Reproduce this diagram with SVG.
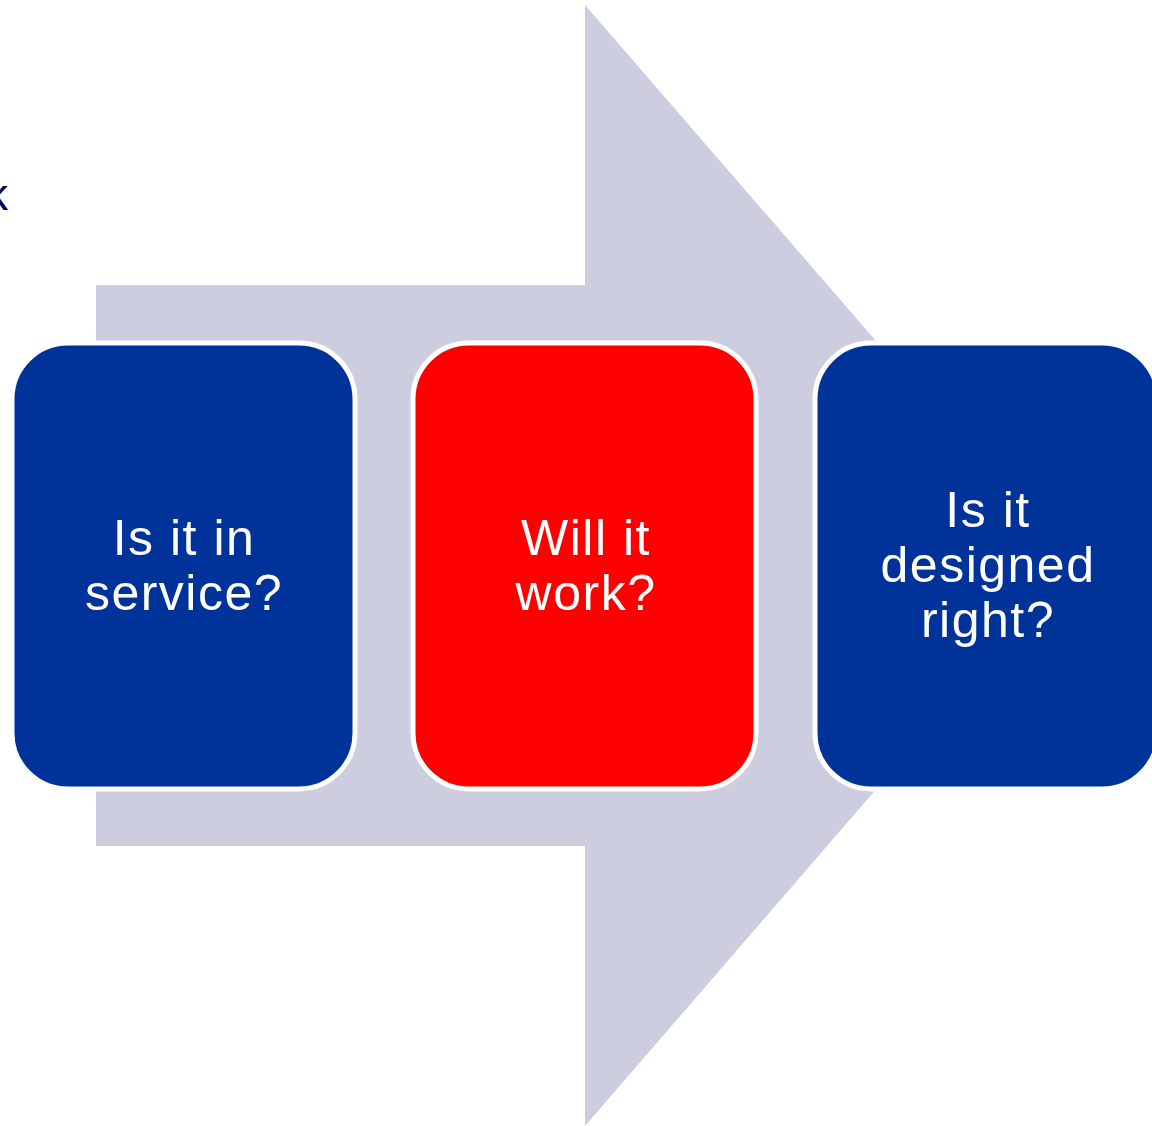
<svg xmlns="http://www.w3.org/2000/svg" width="1152" height="1126" viewBox="0 0 1152 1126">
<style>
.box{stroke:#ffffff;stroke-width:5}
.t{font-family:"Liberation Sans",Arial,sans-serif;font-size:50px;letter-spacing:1.5px;fill:#ffffff;text-anchor:middle}
</style>
<rect width="1152" height="1126" fill="#ffffff"/>
<g id="arrow">
<polygon points="96,285 585,285 585,5 1070,565 585,1126 585,846 96,846" fill="#CCCEE0"/>
</g>
<text x="-14" y="210" font-family="Liberation Sans,Arial,sans-serif" font-size="44" fill="#000066">k</text>
<g id="connectors"></g>
<g id="node1">
<rect class="box" x="12" y="343" width="343" height="446" rx="56" fill="#003399"/>
<text class="t" x="184" y="555">Is it in</text>
<text class="t" x="184" y="610">service?</text>
</g>
<g id="node2">
<rect class="box" x="413" y="343" width="343" height="446" rx="56" fill="#FF0000"/>
<text class="t" x="586" y="555">Will it</text>
<text class="t" x="586" y="610">work?</text>
</g>
<g id="node3">
<rect class="box" x="815" y="343" width="343" height="446" rx="56" fill="#003399"/>
<text class="t" x="988" y="527">Is it</text>
<text class="t" x="988" y="582">designed</text>
<text class="t" x="988" y="637">right?</text>
</g>
</svg>
